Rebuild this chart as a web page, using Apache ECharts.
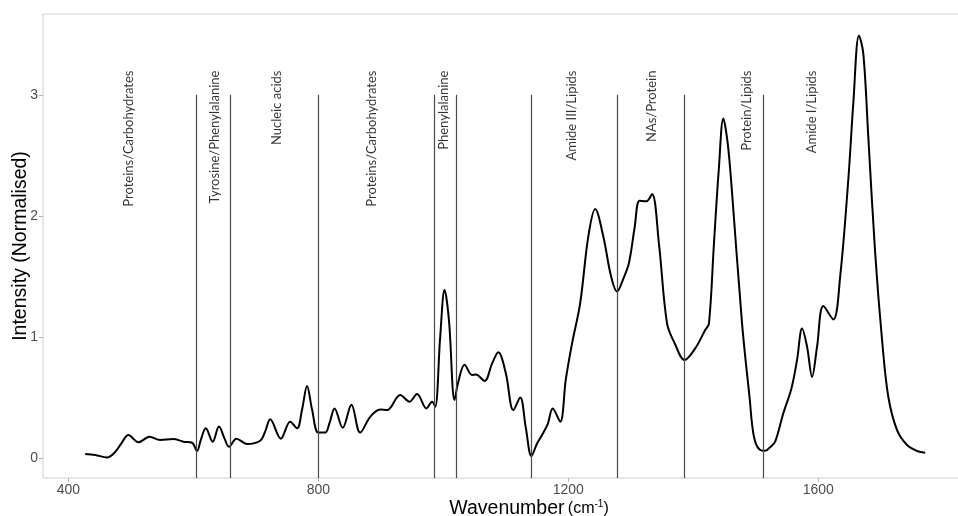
<!DOCTYPE html>
<html>
<head>
<meta charset="utf-8">
<script src="https://cdn.jsdelivr.net/npm/echarts@6/dist/echarts.min.js"></script>
<style>
html,body{margin:0;padding:0;background:#fff;}
#chart{width:958px;height:516px;}
</style>
</head>
<body>
<div id="chart"></div>
<script>
const wavenumber = [427, 443, 462, 475, 486, 496, 512, 530, 547, 568, 584, 598, 606, 612, 620, 631, 641, 650, 657, 669, 686, 707, 715, 723, 740, 755, 766, 774, 782, 790, 800, 811, 818, 826, 839, 853, 867, 883, 899, 910, 931, 946, 958, 973, 982, 987, 995, 1002, 1009, 1018, 1024, 1034, 1046, 1052, 1066, 1078, 1088, 1100, 1112, 1123, 1132, 1141, 1150, 1158, 1167, 1175, 1187, 1196, 1206, 1219, 1232, 1243, 1256, 1268, 1278, 1288, 1297, 1306, 1314, 1325, 1334, 1345, 1358, 1370, 1386, 1403, 1419, 1425, 1433, 1441, 1448, 1455, 1462, 1478, 1490, 1497, 1507, 1515, 1523, 1531, 1544, 1557, 1566, 1574, 1582, 1590, 1598, 1608, 1624, 1635, 1648, 1656, 1665, 1672, 1680, 1691, 1702, 1712, 1726, 1742, 1758, 1771];
const intensity = [0.033, 0.025, 0.005, 0.05, 0.13, 0.19, 0.13, 0.176, 0.149, 0.157, 0.135, 0.126, 0.058, 0.15, 0.245, 0.135, 0.26, 0.16, 0.093, 0.16, 0.116, 0.143, 0.22, 0.32, 0.16, 0.30, 0.245, 0.40, 0.595, 0.40, 0.21, 0.21, 0.29, 0.41, 0.25, 0.44, 0.21, 0.34, 0.40, 0.396, 0.52, 0.465, 0.528, 0.41, 0.465, 0.424, 1.0, 1.39, 1.14, 0.48, 0.63, 0.77, 0.685, 0.69, 0.636, 0.78, 0.873, 0.70, 0.396, 0.50, 0.25, 0.017, 0.12, 0.19, 0.28, 0.41, 0.30, 0.65, 0.947, 1.28, 1.83, 2.056, 1.83, 1.51, 1.375, 1.48, 1.61, 1.9, 2.125, 2.12, 2.18, 1.77, 1.11, 0.95, 0.81, 0.905, 1.057, 1.11, 1.77, 2.4, 2.805, 2.6, 2.19, 1.11, 0.5, 0.176, 0.066, 0.06, 0.09, 0.135, 0.37, 0.575, 0.81, 1.07, 0.92, 0.67, 0.92, 1.255, 1.145, 1.50, 2.30, 2.93, 3.49, 3.34, 2.65, 1.69, 0.975, 0.506, 0.23, 0.107, 0.058, 0.044];

const regionLines = [605, 659, 800, 985, 1021, 1140, 1279, 1385, 1512];
const regionLabels = ['Proteins/Carbohydrates', 'Tyrosine/Phenylalanine', 'Nucleic acids', 'Proteins/Carbohydrates', 'Phenylalanine', 'Amide III/Lipids', 'NAs/Protein', 'Protein/Lipids', 'Amide I/Lipids'];
const regionLabelX = [496, 634, 733, 886, 1001, 1205, 1334, 1485, 1590];
const lineTop = 3;
const labelTop = 3.2;
const xTicks = [400, 800, 1200, 1600];
const yTicks = [0, 1, 2, 3];

const xMin = 359.5, xMax = 1914.7, yMin = -0.165, yMax = 3.667;

const chart = echarts.init(document.getElementById('chart'), null, {renderer: 'canvas'});
chart.setOption({
  animation: false,
  backgroundColor: '#fff',
  grid: {left: 43, right: -57, top: 14, bottom: 38, show: true, borderColor: '#cfcfcf', borderWidth: 1, containLabel: false, outerBoundsMode: 'none'},
  xAxis: {
    type: 'value', min: xMin, max: xMax,
    axisLine: {show: false, onZero: false},
    splitLine: {show: false},
    axisTick: {show: true, customValues: xTicks, length: 4, lineStyle: {color: '#b3b3b3'}},
    axisLabel: {customValues: xTicks, formatter: v => String(v), color: '#4d4d4d', fontSize: 14, fontFamily: 'Liberation Sans', margin: 5},
    name: '{a|Wavenumber} {b|(cm}{c|-1}{b|)}',
    nameLocation: 'middle', nameGap: 21, nameMoveOverlap: false,
    nameTextStyle: {
      rich: {
        a: {fontSize: 19.5, fontFamily: 'Liberation Sans', color: '#000'},
        b: {fontSize: 16, fontFamily: 'Liberation Sans', color: '#000'},
        c: {fontSize: 10, fontFamily: 'Liberation Sans', color: '#000', verticalAlign: 'top', padding: [0,0,8,0]}
      }
    }
  },
  yAxis: {
    type: 'value', min: yMin, max: yMax,
    axisLine: {show: false, onZero: false},
    splitLine: {show: false},
    axisTick: {show: true, customValues: yTicks, length: 4, lineStyle: {color: '#b3b3b3'}},
    axisLabel: {customValues: yTicks, formatter: v => String(v), color: '#4d4d4d', fontSize: 14, fontFamily: 'Liberation Sans', margin: 5},
    name: 'Intensity (Normalised)',
    nameLocation: 'middle', nameGap: 12, nameMoveOverlap: false,
    nameTextStyle: {fontSize: 19.5, fontFamily: 'Liberation Sans', color: '#000'}
  },
  series: [
    {
      type: 'line',
      data: wavenumber.map((x, i) => [x, intensity[i]]),
      showSymbol: false,
      smooth: 0.35,
      lineStyle: {color: '#000', width: 2},
      z: 3,
      markLine: {
        silent: true,
        symbol: 'none',
        label: {show: false},
        lineStyle: {color: '#4a4a4a', width: 1.2, type: 'solid'},
        data: regionLines.map(x => [{coord: [x, yMin]}, {coord: [x, lineTop]}])
      }
    },
    {
      type: 'scatter',
      data: regionLabelX.map((x, i) => [x, labelTop, regionLabels[i]]),
      symbolSize: 0,
      silent: true,
      label: {
        show: true,
        position: [0, 0],
        formatter: p => p.data[2],
        rotate: 90,
        align: 'right',
        verticalAlign: 'middle',
        color: '#000',
        fontSize: 13,
        fontFamily: 'Lato'
      }
    }
  ]
});
</script>
</body>
</html>
